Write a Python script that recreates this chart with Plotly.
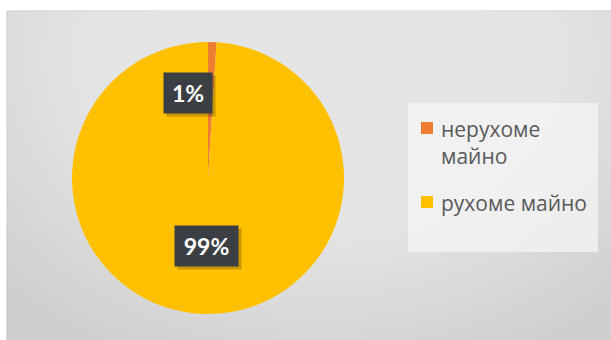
import plotly.graph_objects as go

# Property structure (share, %)
categories = ["нерухоме<br>майно", "рухоме майно"]
values = [1, 99]
colors = ["#ED7D31", "#FFC000"]

W, H = 611, 340


def px(x):
    return x / W


def py(y):
    return 1 - y / H


fig = go.Figure()

fig.add_trace(go.Pie(
    labels=categories,
    values=values,
    sort=False,
    direction="clockwise",
    rotation=0,
    textinfo="none",
    hoverinfo="label+percent",
    showlegend=False,
    marker=dict(colors=colors, line=dict(width=0)),
    domain=dict(x=[px(72), px(344)], y=[py(314), py(42)]),
))

shapes = []
# grey panel
shapes.append(dict(type="rect", xref="paper", yref="paper", layer="below",
                   x0=px(7), x1=1.01, y0=-0.01, y1=py(11),
                   fillcolor="#cfcfcf", line=dict(color="#c2c2c2", width=1)))
# soft radial highlight toward the upper middle
cx, cy = 320, 55
n = 45
for i in range(n):
    f = 1 - i / n
    rx = 430 * f
    ry = 330 * f
    shapes.append(dict(type="circle", xref="paper", yref="paper", layer="below",
                       x0=px(cx - rx), x1=px(cx + rx),
                       y0=py(cy + ry), y1=py(cy - ry),
                       fillcolor="rgba(255,255,255,0.037)", line=dict(width=0)))
# legend panel
shapes.append(dict(type="rect", xref="paper", yref="paper", layer="below",
                   x0=px(408), x1=px(598), y0=py(252), y1=py(103),
                   fillcolor="rgba(246,246,246,0.7)", line=dict(width=0)))

# percentage labels in dark boxes
total = sum(values)
label_pos = [(188, 93, 40), (206.5, 246, 55)]
annotations = []
for v, (x, y, w) in zip(values, label_pos):
    txt = f"{v / total * 100:.0f}%"
    annotations.append(dict(x=px(x + 3), y=py(y + 3), xref="paper", yref="paper",
                            xanchor="center", yanchor="middle",
                            text="", showarrow=False, width=w, height=32,
                            borderpad=4, bgcolor="rgba(0,0,0,0.22)"))
    annotations.append(dict(x=px(x), y=py(y), xref="paper", yref="paper",
                            xanchor="center", yanchor="middle",
                            text=txt, showarrow=False, width=w, height=32,
                            borderpad=4, bgcolor="#3b3e43",
                            font=dict(family="Lato", size=23, color="white",
                                      weight="bold")))

# legend: colour squares and labels
legend_rows = [(118, 113), (192, 186.5)]
for name, col, (ysym, ytxt) in zip(categories, colors, legend_rows):
    shapes.append(dict(type="rect", xref="paper", yref="paper",
                       x0=px(421), x1=px(433), y0=py(ysym + 16), y1=py(ysym + 4),
                       fillcolor=col, line=dict(width=0)))
    annotations.append(dict(x=px(439), y=py(ytxt), xref="paper", yref="paper",
                            xanchor="left", yanchor="top", align="left",
                            text=name, showarrow=False,
                            font=dict(family="Open Sans", size=21, color="#595959")))

fig.update_layout(
    width=W, height=H,
    margin=dict(l=0, r=0, t=0, b=0),
    paper_bgcolor="white",
    plot_bgcolor="white",
    shapes=shapes,
    annotations=annotations,
    showlegend=False,
)

fig.write_html("out.html")
